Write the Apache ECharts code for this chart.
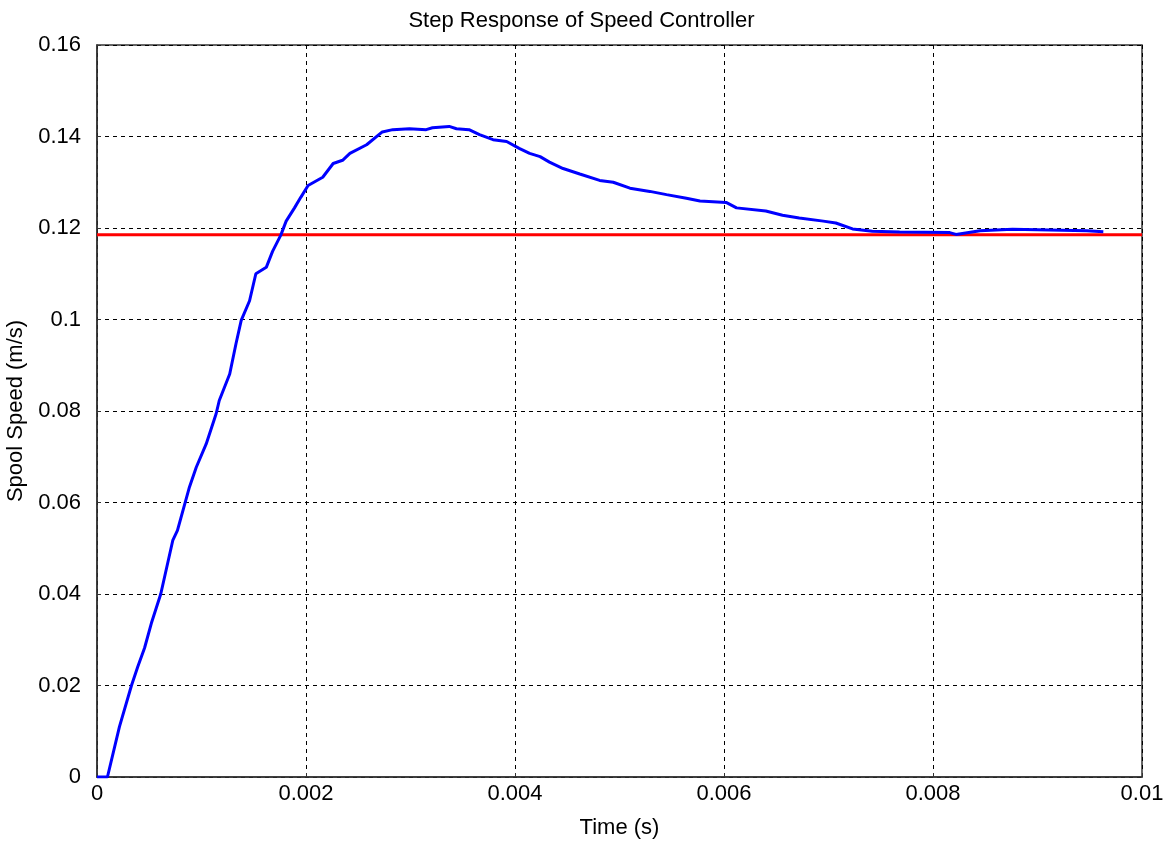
<!DOCTYPE html>
<html>
<head>
<meta charset="utf-8">
<script src="https://cdn.jsdelivr.net/npm/echarts@6/dist/echarts.min.js"></script>
<style>
html,body{margin:0;padding:0;background:#fff;}
#chart{width:1163px;height:842px;}
</style>
</head>
<body>
<div id="chart"></div>
<script>
// Blue step response: time (s) and spool speed (m/s)
var timeValues = [0, 0.0001, 0.000215, 0.00033, 0.00039, 0.000455, 0.00052, 0.00061, 0.000725, 0.00077, 0.00085, 0.000885, 0.00095, 0.001045, 0.00114, 0.00117, 0.00127, 0.00133, 0.00138, 0.00146, 0.00152, 0.00162, 0.00168, 0.00176, 0.00181, 0.00189, 0.00195, 0.00202, 0.00216, 0.00226, 0.00235, 0.00242, 0.00258, 0.00273, 0.00283, 0.00299, 0.00315, 0.00321, 0.00337, 0.00344, 0.00356, 0.00366, 0.00379, 0.00392, 0.00404, 0.00414, 0.00424, 0.00433, 0.00446, 0.00462, 0.00481, 0.00494, 0.0051, 0.00529, 0.00545, 0.00564, 0.00577, 0.00602, 0.00612, 0.0064, 0.00656, 0.00672, 0.00695, 0.00707, 0.00723, 0.00742, 0.00768, 0.00816, 0.00822, 0.00845, 0.00876, 0.00947, 0.00963];
var speedValues = [0, 0, 0.0110, 0.0200, 0.0241, 0.0282, 0.0336, 0.0400, 0.0517, 0.0539, 0.0605, 0.0634, 0.0677, 0.0728, 0.0794, 0.0823, 0.0881, 0.0947, 0.0998, 0.1041, 0.1100, 0.1114, 0.1149, 0.1185, 0.1215, 0.1244, 0.1267, 0.1293, 0.1311, 0.1341, 0.1348, 0.1363, 0.1382, 0.1410, 0.1415, 0.1417, 0.1415, 0.1419, 0.1422, 0.1417, 0.1415, 0.1404, 0.1393, 0.1389, 0.1374, 0.1363, 0.1356, 0.1344, 0.1330, 0.1318, 0.1304, 0.1300, 0.1287, 0.1280, 0.1273, 0.1265, 0.1259, 0.1256, 0.1244, 0.1237, 0.1228, 0.1222, 0.1215, 0.1211, 0.1198, 0.1193, 0.1191, 0.1190, 0.1186, 0.1194, 0.1197, 0.1194, 0.1192];
// Red reference (setpoint) line
var refTime = [0, 0.01];
var refValue = [0.1185, 0.1185];
// Tick labels
var xTickLabels = ['0', '0.002', '0.004', '0.006', '0.008', '0.01'];
var yTickLabels = ['0', '0.02', '0.04', '0.06', '0.08', '0.1', '0.12', '0.14', '0.16'];

var blueData = timeValues.map(function (t, i) { return [t, speedValues[i]]; });
var redData = refTime.map(function (t, i) { return [t, refValue[i]]; });

var font = '"Liberation Sans", Arial, sans-serif';
var fs = 22;
var chart = echarts.init(document.getElementById('chart'), null, {renderer: 'canvas'});
chart.setOption({
  animation: false,
  backgroundColor: '#fff',
  title: {
    text: 'Step Response of Speed Controller',
    left: 'center',
    top: 5,
    textStyle: {fontFamily: font, fontSize: fs, fontWeight: 'normal', color: '#000'}
  },
  grid: {
    left: 97, right: 21, top: 45, bottom: 65,
    outerBoundsMode: 'none', containLabel: false,
    show: true, borderColor: '#333', borderWidth: 1.5, backgroundColor: '#fff'
  },
  xAxis: {
    type: 'value', min: 0, max: 0.01, interval: 0.002,
    name: 'Time (s)', nameLocation: 'middle', nameGap: 40,
    nameTextStyle: {fontFamily: font, fontSize: fs, color: '#000'},
    axisLine: {show: true, lineStyle: {color: '#333', width: 1.5}},
    axisTick: {show: true, inside: true, length: 4, lineStyle: {color: '#333'}},
    axisLabel: {
      fontFamily: font, fontSize: fs, color: '#000', margin: 6,
      formatter: function (v) { return xTickLabels[Math.round(v / 0.002)]; }
    },
    splitLine: {show: true, lineStyle: {color: '#000', type: [4, 4], width: 1}}
  },
  yAxis: {
    type: 'value', min: 0, max: 0.16, interval: 0.02,
    name: 'Spool Speed (m/s)', nameLocation: 'middle', nameGap: 69,
    nameTextStyle: {fontFamily: font, fontSize: fs, color: '#000'},
    axisLine: {show: true, lineStyle: {color: '#333', width: 1.5}},
    axisTick: {show: true, inside: true, length: 4, lineStyle: {color: '#333'}},
    axisLabel: {
      fontFamily: font, fontSize: fs, color: '#000', margin: 16,
      formatter: function (v) { return yTickLabels[Math.round(v / 0.02)]; }
    },
    splitLine: {show: true, lineStyle: {color: '#000', type: [4, 4], width: 1}}
  },
  series: [
    {
      type: 'line', data: redData, showSymbol: false, symbol: 'none',
      lineStyle: {color: '#ff0000', width: 3}, z: 3
    },
    {
      type: 'line', data: blueData, showSymbol: false, symbol: 'none',
      lineStyle: {color: '#0000ff', width: 3}, z: 4
    }
  ]
});
</script>
</body>
</html>
